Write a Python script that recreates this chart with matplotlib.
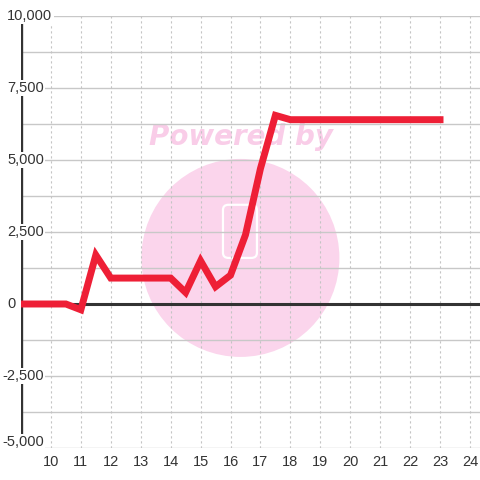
import matplotlib
matplotlib.use("Agg")
import matplotlib.pyplot as plt
from matplotlib.patches import Ellipse, FancyBboxPatch
import numpy as np

plt.rcParams['font.family'] = ['Liberation Sans', 'DejaVu Sans']

# data
hours = [9.0, 10.5, 11.0, 11.5, 12.0, 14.0, 14.5, 15.0, 15.5, 16.0, 16.5, 17.0, 17.5, 18.0, 23.0]
values = [0, 0, -200, 1700, 900, 900, 400, 1500, 600, 1000, 2400, 4700, 6550, 6400, 6400]
x_ticks = list(range(10, 25))
y_ticks = [-5000, -2500, 0, 2500, 5000, 7500, 10000]
y_minor = [-3750, -1250, 1250, 3750, 6250, 8750]

W, H = 480, 480
fig = plt.figure(figsize=(W / 100, H / 100), dpi=100)
fig.patch.set_facecolor('white')

# axes in pixel positions
left, right, top, bottom = 21, 480, 16, 448
ax = fig.add_axes([left / W, 1 - bottom / H, (right - left) / W, (bottom - top) / H])
ax.set_xlim(9, 9 + (right - left) / 29.93)
ax.set_ylim(-5000, 10000)
ax.patch.set_alpha(0)
for s in ax.spines.values():
    s.set_visible(False)

# watermark (behind grid)
ax.add_patch(Ellipse((0.478, 0.44), 198 / (right - left), 198 / (bottom - top),
                     transform=ax.transAxes, facecolor='#fbd5ec', edgecolor='none', zorder=0))
ax.add_patch(FancyBboxPatch((0.44, 0.44), 0.074, 0.123, boxstyle='round,pad=0,rounding_size=0.012',
                            transform=ax.transAxes, facecolor='none', edgecolor='white',
                            lw=1.6, zorder=0.1))
ax.text(0.480, 0.721, 'Powered by', transform=ax.transAxes, ha='center', va='center',
        fontsize=20, fontweight='heavy', fontstyle='italic', family='DejaVu Sans',
        color='#f9cde8', zorder=0.1)

# grid
for v in y_ticks + y_minor:
    ax.axhline(v, color='#c8c8c8', lw=1.0, zorder=0.5)
for h in x_ticks:
    ax.axvline(h, color='#c4c4c4', lw=0.8, ls=(0, (2, 2.5)), zorder=0.5)

# zero line and y axis line
ax.axhline(0, color='#333333', lw=2.2, zorder=1)
ax.axvline(9, color='#333333', lw=2.4, zorder=1)

# series
ax.plot(hours, values, color='#ee1f36', lw=5, solid_capstyle='projecting',
        solid_joinstyle='miter', zorder=3)

ax.set_xticks(x_ticks)
ax.set_xticklabels([str(t) for t in x_ticks])
ax.tick_params(axis='x', length=0, pad=5, labelsize=10.5, labelcolor='#333333')
ax.set_yticks([])

# y labels with white boxes over axis line
for v in y_ticks:
    xpix = 2 if v < 0 else 7
    va = 'bottom' if v == y_ticks[0] else 'center'
    yoff = -1 if v == y_ticks[0] else 0
    ax.annotate(f'{v:,}', xy=(0, v), xycoords=('axes fraction', 'data'),
                xytext=(xpix - left, yoff), textcoords='offset pixels',
                ha='left', va=va, fontsize=10.5, color='#333333', zorder=4,
                bbox=dict(boxstyle='square,pad=0.1', fc='white', ec='none'))

fig.savefig('out.png', dpi=100)
